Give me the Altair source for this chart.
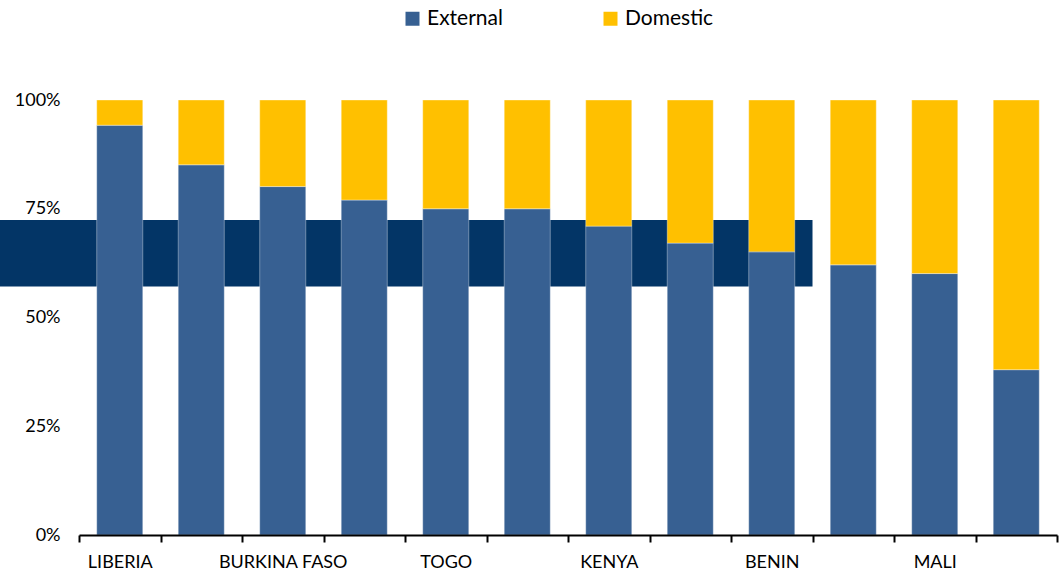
import json

import altair as alt
import pandas as pd

# Categories along the x axis (only every other one carries a printed label)
countries = ["LIBERIA", "", "BURKINA FASO", "", "TOGO", "", "KENYA", "", "BENIN", "", "MALI", ""]

# Share of funding, percent
external = [94.2, 85.1, 80.1, 77.0, 75.0, 75.0, 71.0, 67.1, 65.1, 62.1, 60.1, 38.0]
domestic = [5.8, 14.9, 19.9, 23.0, 25.0, 25.0, 29.0, 32.9, 34.9, 37.9, 39.9, 62.0]

series = ["External", "Domestic"]
colors = ["#376092", "#FFC000"]

# Highlighted range spanning the first nine categories
band_low = 57.1
band_high = 72.4
band_first = 0
band_last = 8

W, H = 978, 435
PAD_LEFT = 79

rows = []
for i in range(len(countries)):
    rows.append({"idx": i, "series": "External", "ord": 0, "value": external[i]})
    rows.append({"idx": i, "series": "Domestic", "ord": 1, "value": domestic[i]})
df = pd.DataFrame(rows)

band_df = pd.DataFrame([{"first": band_first, "last": band_last, "lo": band_low, "hi": band_high}])

label_expr = json.dumps(countries) + "[datum.value]"

x_scale = alt.Scale(paddingInner=0, paddingOuter=0)
y_scale = alt.Scale(domain=[0, 100], nice=False)

x_axis = alt.Axis(
    title=None,
    labelExpr=label_expr,
    labelAngle=0,
    tickBand="extent",
    tickSize=7,
    tickWidth=2,
    tickColor="black",
    domainColor="black",
    domainWidth=2,
    labelFont="Lato",
    labelFontSize=18,
    labelColor="black",
    labelPadding=11,
)
y_axis = alt.Axis(
    title=None,
    values=[0, 25, 50, 75, 100],
    labelExpr="datum.value + '%'",
    grid=False,
    domain=False,
    ticks=False,
    labelPadding=19,
    labelFont="Lato",
    labelFontSize=18,
    labelColor="black",
)

band = alt.Chart(band_df).mark_rect(color="#033566", xOffset=-PAD_LEFT).encode(
    x=alt.X("first:O", bandPosition=0, scale=x_scale, axis=x_axis),
    x2=alt.X2("last", bandPosition=1),
    y=alt.Y("lo:Q", scale=y_scale, axis=y_axis),
    y2="hi:Q",
)

bars = alt.Chart(df).mark_bar(
    width=alt.RelativeBandSize(band=0.565),
    stroke="white",
    strokeWidth=0.6,
    strokeOpacity=0.6,
).encode(
    x=alt.X("idx:O", scale=x_scale, axis=x_axis),
    y=alt.Y("value:Q", stack="zero", scale=y_scale, axis=y_axis),
    color=alt.Color(
        "series:N",
        scale=alt.Scale(domain=series, range=colors),
        legend=alt.Legend(
            title=None,
            orient="none",
            legendX=323,
            legendY=-92,
            direction="horizontal",
            symbolType="square",
            symbolSize=196,
            symbolStrokeWidth=0,
            labelFont="Lato",
            labelFontSize=21,
            labelColor="black",
            labelOffset=4,
            columnPadding=97,
        ),
    ),
    order=alt.Order("ord:Q"),
)

chart = alt.layer(band, bars).properties(
    width=W,
    height=H,
    autosize=alt.AutoSizeParams(type="none"),
    padding={"left": PAD_LEFT, "top": 100, "right": 7, "bottom": 39},
    background="white",
).configure_view(stroke=None)

chart.save("out.html", embed_options={"renderer": "svg", "actions": False})
